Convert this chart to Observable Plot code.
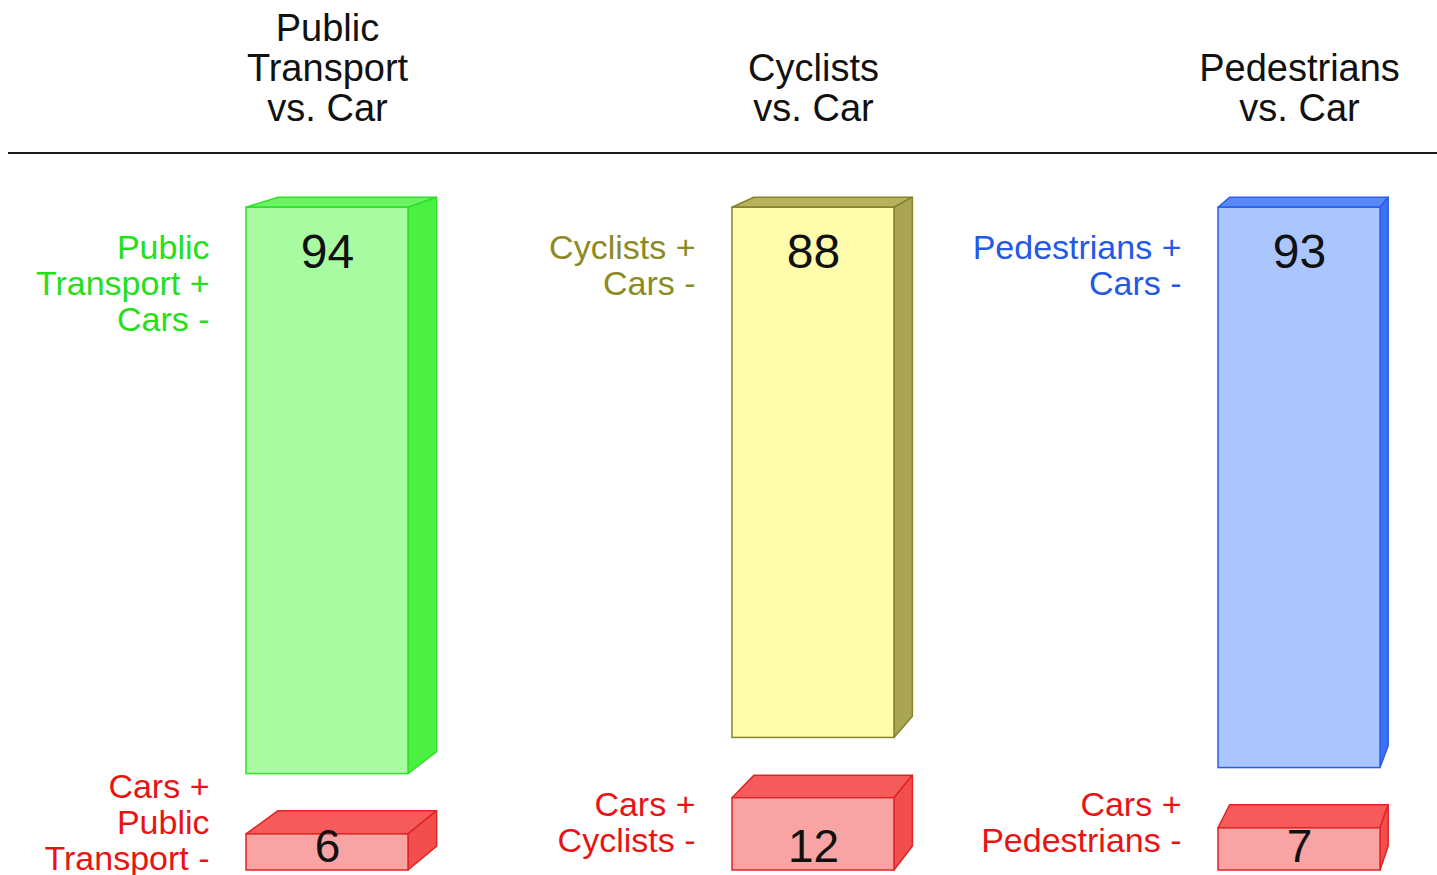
<!DOCTYPE html>
<html>
<head>
<meta charset="utf-8">
<script src="https://cdn.jsdelivr.net/npm/d3@7"></script>
<script src="https://cdn.jsdelivr.net/npm/@observablehq/plot@0.6"></script>
<style>
  html, body { margin: 0; padding: 0; background: #ffffff; }
  #chart svg { display: block; }
</style>
</head>
<body>
<div id="chart"></div>
<script>
// ---- data ----
const comparisons = ["Public Transport", "Cyclists", "Pedestrians"];
const headers = ["Public\nTransport\nvs. Car", "Cyclists\nvs. Car", "Pedestrians\nvs. Car"];
const modeWins = [94, 88, 93];
const carWins = [6, 12, 7];
const modeLabels = ["Public\nTransport +\nCars -", "Cyclists +\nCars -", "Pedestrians +\nCars -"];
const carLabels = ["Cars +\nPublic\nTransport -", "Cars +\nCyclists -", "Cars +\nPedestrians -"];

// ---- layout / style constants ----
const gap = 10;        // vertical gap between the two blocks (in value units)
const yTop = 119;      // headroom above the blocks, reaching to the header rule
const vanish = {x: 1770, y: -270, t: 0.021}; // perspective of the 3D faces
const FONT = "'Liberation Sans', Arial, Helvetica, sans-serif";

const palette = {
  "Public Transport": {front: "#a9fba2", top: "#6cf264", side: "#4cf040", stroke: "#2fe026", text: "#24e018"},
  "Cyclists":         {front: "#fffcab", top: "#b7b35c", side: "#a9a552", stroke: "#86832c", text: "#8c8a22"},
  "Pedestrians":      {front: "#abc6ff", top: "#5a88f6", side: "#3f72f2", stroke: "#2a60ea", text: "#2358e8"}
};
const red = {front: "#f9a4a4", top: "#f65b5b", side: "#f34e4e", stroke: "#e02424", text: "#e81414"};

// ---- tables built from arrays ----
const blocks = [];
comparisons.forEach((c, i) => {
  blocks.push({cat: c, kind: "mode", lo: carWins[i] + gap, hi: carWins[i] + gap + modeWins[i], value: modeWins[i], label: modeLabels[i], style: palette[c]});
  blocks.push({cat: c, kind: "car", lo: 0, hi: carWins[i], value: carWins[i], label: carLabels[i], style: red});
});
const modeBlocks = blocks.filter(d => d.kind === "mode");
const carBlocks = blocks.filter(d => d.kind === "car");
const heads = comparisons.map((c, i) => ({cat: c, text: headers[i]}));

// 3D faces (top + right side) drawn with Plot's own scales
function faces(index, scales, values, dims) {
  const sx = scales.x, sy = scales.y;
  let bw = typeof sx.bandwidth === "function" ? sx.bandwidth() : sx.bandwidth;
  if (!(bw > 0)) bw = (sx(comparisons[1]) - sx(comparisons[0])) / 3;
  const back = ([px, py]) => [px + vanish.t * (vanish.x - px), py + vanish.t * (vanish.y - py)];
  const g = d3.create("svg:g");
  for (const b of blocks) {
    const x0 = sx(b.cat), x1 = x0 + bw;
    const yT = sy(b.hi), yB = sy(b.lo);
    const topFace = [[x0, yT], [x1, yT], back([x1, yT]), back([x0, yT])];
    const sideFace = [[x1, yT], [x1, yB], back([x1, yB]), back([x1, yT])];
    for (const [pts, fill] of [[topFace, b.style.top], [sideFace, b.style.side]]) {
      g.append("polygon")
        .attr("points", pts.map(p => p.join(",")).join(" "))
        .attr("fill", fill)
        .attr("stroke", b.style.stroke)
        .attr("stroke-width", 1.5)
        .attr("stroke-linejoin", "round");
    }
  }
  // header rule across the whole width
  g.append("line")
    .attr("x1", 8).attr("x2", dims.width)
    .attr("y1", dims.marginTop).attr("y2", dims.marginTop)
    .attr("stroke", "#1a1a1a").attr("stroke-width", 2);
  return g.node();
}

const chart = Plot.plot({
  width: 1437,
  height: 875,
  marginTop: 153,
  marginBottom: 5,
  marginLeft: 245,
  marginRight: 57,
  style: {fontFamily: FONT, background: "#ffffff", overflow: "visible"},
  x: {domain: comparisons, paddingInner: 0.667, paddingOuter: 0, axis: null},
  y: {domain: [0, yTop], axis: null},
  marks: [
    faces,
    Plot.barY(blocks, {
      x: "cat", y1: "lo", y2: "hi",
      fill: d => d.style.front, stroke: d => d.style.stroke, strokeWidth: 1.5
    }),
    // values inside the blocks
    Plot.text(modeBlocks, {x: "cat", y: "hi", text: d => String(d.value), fontSize: 48, fill: "#111", lineAnchor: "middle", dy: 45}),
    Plot.text(carBlocks, {x: "cat", y: "lo", text: d => String(d.value), fontSize: 46, fill: "#111", lineAnchor: "middle", dy: -23}),
    // side labels
    Plot.text(modeBlocks, {x: "cat", y: "hi", text: "label", fill: d => d.style.text, fontSize: 34, lineHeight: 1.06, textAnchor: "end", lineAnchor: "top", dx: -118, dy: 26}),
    Plot.text(carBlocks, {x: "cat", frameAnchor: "bottom", text: "label", fill: d => d.style.text, fontSize: 34, lineHeight: 1.06, textAnchor: "end", lineAnchor: "middle", dx: -118, dy: -48}),
    // column headers
    Plot.text(heads, {x: "cat", frameAnchor: "top", text: "text", fill: "#111", fontSize: 38, lineHeight: 1.05, lineAnchor: "bottom", dy: -33})
  ]
});
document.getElementById("chart").appendChild(chart);
</script>
</body>
</html>
